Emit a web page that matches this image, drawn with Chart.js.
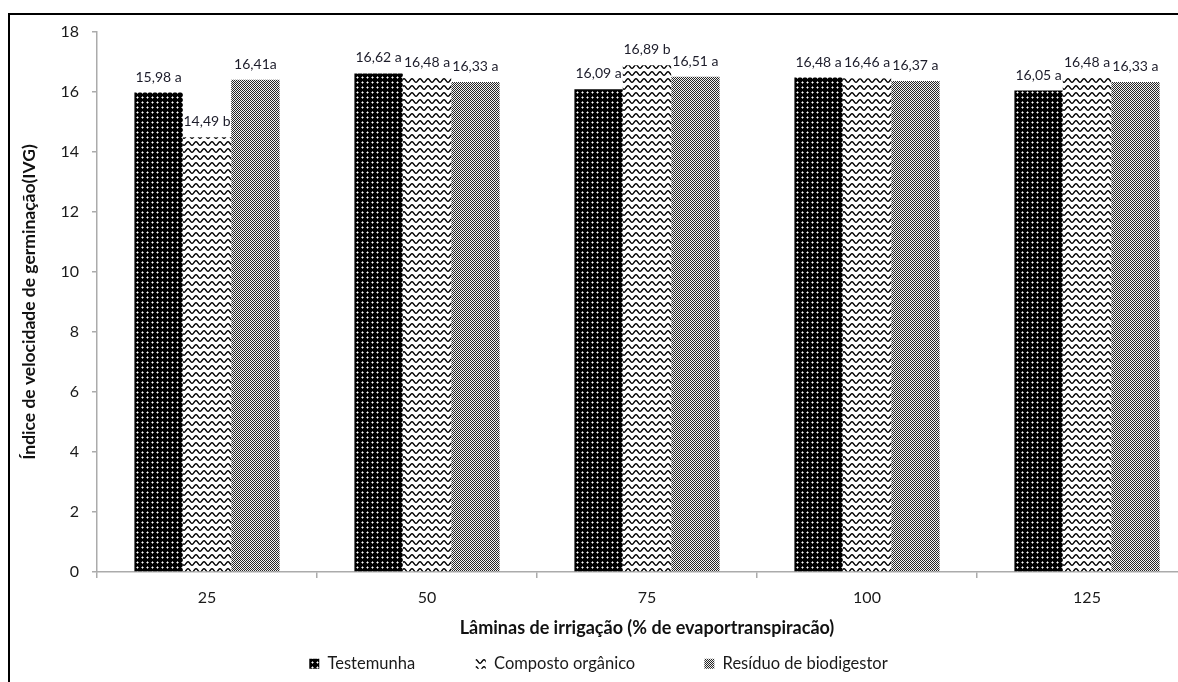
<!DOCTYPE html>
<html>
<head>
<meta charset="utf-8">
<title>Índice de velocidade de germinação</title>
<script src="https://cdn.jsdelivr.net/npm/chart.js@4.4.1/dist/chart.umd.min.js"></script>
<style>
  html, body { margin: 0; padding: 0; background: #fff; overflow: hidden; width: 1178px; height: 682px; }
  #wrap { position: relative; width: 1200px; height: 682px; }
  #c { position: absolute; left: 0; top: 0; }
  #frame { position: absolute; left: 8px; top: 13px; width: 1400px; height: 900px;
           border-top: 2px solid #000; border-left: 2px solid #000; pointer-events: none; }
</style>
</head>
<body>
<div id="wrap">
  <canvas id="c" width="1200" height="682" style="width:1200px;height:682px"></canvas>
  <div id="frame"></div>
</div>
<script>
// Lâminas de irrigação (% da evapotranspiração)
const categories = ['25', '50', '75', '100', '125'];

// Índice de velocidade de germinação por tratamento
const testemunha = [15.98, 16.62, 16.09, 16.48, 16.05];
const compostoOrganico = [14.49, 16.48, 16.89, 16.46, 16.48];
const residuoBiodigestor = [16.41, 16.33, 16.51, 16.37, 16.33];

// Letras do teste de médias escritas após cada valor
const letrasTestemunha = [' a', ' a', ' a', ' a', ' a'];
const letrasComposto = [' b', ' a', ' b', ' a', ' a'];
const letrasResiduo = ['a', ' a', ' a', ' a', ' a'];

const seriesNames = ['Testemunha', 'Composto orgânico', 'Resíduo de biodigestor'];
const yMin = 0, yMax = 18, yStep = 2;

const FONT = 'Lato, "Open Sans", "DejaVu Sans", sans-serif';

// Preenchimentos com textura
function makePattern(w, h, draw) {
  const cv = document.createElement('canvas');
  cv.width = w; cv.height = h;
  const g = cv.getContext('2d');
  draw(g, w, h);
  return g.createPattern(cv, 'repeat');
}

// preto com pontos brancos
const padraoPontos = makePattern(5, 5, (g) => {
  g.fillStyle = '#000'; g.fillRect(0, 0, 5, 5);
  g.fillStyle = '#8c8c8c';
  g.fillRect(1, 2, 1, 1); g.fillRect(3, 2, 1, 1); g.fillRect(2, 1, 1, 1); g.fillRect(2, 3, 1, 1);
  g.fillStyle = '#fff'; g.fillRect(2, 2, 1, 1);
});

// branco com linhas onduladas
const padraoOndas = makePattern(8, 7, (g, w, h) => {
  g.fillStyle = '#fff'; g.fillRect(0, 0, w, h);
  g.strokeStyle = '#000'; g.lineWidth = 1.4;
  g.beginPath();
  for (let x = -1; x <= w + 1; x += 0.5) {
    const y = 3.5 + 1.8 * Math.cos(2 * Math.PI * x / w);
    if (x === -1) g.moveTo(x, y); else g.lineTo(x, y);
  }
  g.stroke();
});

// xadrez miúdo cinza
const padraoXadrez = makePattern(2, 2, (g) => {
  g.fillStyle = '#f2f2f2'; g.fillRect(0, 0, 2, 2);
  g.fillStyle = '#262626'; g.fillRect(0, 0, 1, 1); g.fillRect(1, 1, 1, 1);
});

// Rótulos de valor acima das barras
const rotulosPlugin = {
  id: 'rotulos',
  afterDatasetsDraw(chart) {
    const ctx = chart.ctx;
    ctx.save();
    ctx.font = '14px ' + FONT;
    ctx.fillStyle = '#1c1c2a';
    ctx.textAlign = 'center';
    ctx.textBaseline = 'alphabetic';
    chart.data.datasets.forEach((ds, i) => {
      const meta = chart.getDatasetMeta(i);
      meta.data.forEach((bar, j) => {
        const txt = ds.data[j].toFixed(2).replace('.', ',') + ds.letras[j];
        ctx.fillText(txt, bar.x, bar.y - 11);
      });
    });
    ctx.restore();
  }
};

const axisGray = '#ababab';
const gapsLegenda = [12, 14, 0];

new Chart(document.getElementById('c'), {
  type: 'bar',
  data: {
    labels: categories,
    datasets: [
      { label: seriesNames[0], data: testemunha, letras: letrasTestemunha, backgroundColor: padraoPontos, borderWidth: 0 },
      { label: seriesNames[1], data: compostoOrganico, letras: letrasComposto, backgroundColor: padraoOndas, borderWidth: 0 },
      { label: seriesNames[2], data: residuoBiodigestor, letras: letrasResiduo, backgroundColor: padraoXadrez, borderWidth: 0 }
    ]
  },
  options: {
    responsive: false,
    animation: false,
    devicePixelRatio: 1,
    datasets: { bar: { categoryPercentage: 0.66, barPercentage: 1.0 } },
    layout: { padding: { left: 0, top: 32, right: 3, bottom: 0 } },
    plugins: {
      legend: {
        position: 'bottom',
        labels: {
          font: { family: FONT, size: 16.5 },
          color: '#1a1a1a',
          boxWidth: 10,
          boxHeight: 10,
          padding: 10,
          generateLabels(chart) {
            const items = Chart.defaults.plugins.legend.labels.generateLabels(chart);
            items.forEach((it, k) => {
              it.lineWidth = 0;
              it.text = it.text + '\u00a0'.repeat(gapsLegenda[k]);
            });
            return items;
          }
        }
      },
      tooltip: { enabled: false }
    },
    scales: {
      x: {
        grid: { drawOnChartArea: false, drawTicks: true, tickLength: 6, color: axisGray, tickColor: axisGray, lineWidth: 1.5, offset: true },
        border: { color: axisGray, width: 1.5 },
        ticks: { font: { family: FONT, size: 16 }, color: '#1a1a1a', padding: 10 },
        title: {
          display: true,
          text: 'Lâminas de irrigação (% de evaportranspiracão)',
          font: { family: FONT, size: 18, weight: 'bold' },
          color: '#111',
          padding: { top: 0, bottom: 7 }
        },
        afterFit(scale) { scale.height = 73.5; }
      },
      y: {
        min: yMin,
        max: yMax,
        ticks: { stepSize: yStep, font: { family: FONT, size: 16 }, color: '#1a1a1a', padding: 13 },
        grid: { drawOnChartArea: false, drawTicks: true, tickLength: 5, color: axisGray, tickColor: axisGray, lineWidth: 1.5 },
        border: { color: axisGray, width: 1.5 },
        title: {
          display: true,
          text: 'Índice de velocidade de germinação(IVG)',
          font: { family: FONT, size: 17.5, weight: 'bold' },
          color: '#111',
          padding: { top: 19, bottom: 0 }
        },
        afterFit(scale) { scale.width = 97; }
      }
    }
  },
  plugins: [rotulosPlugin]
});
</script>
</body>
</html>
